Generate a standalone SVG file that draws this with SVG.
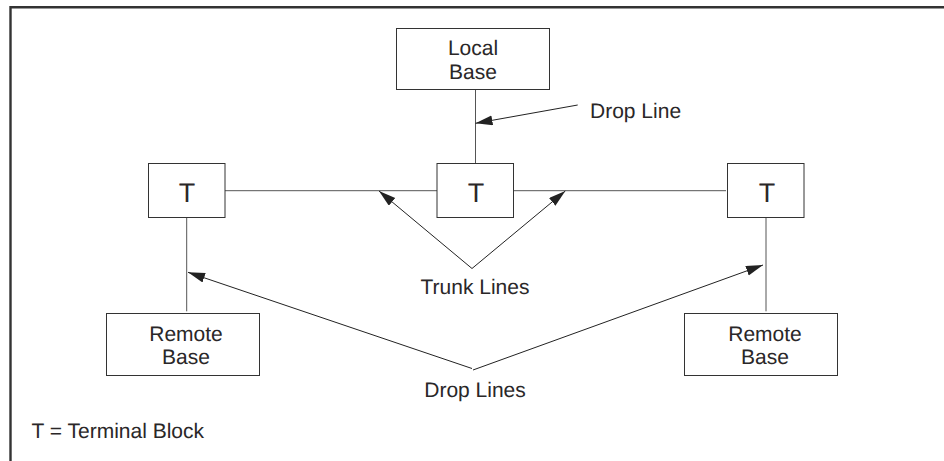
<svg xmlns="http://www.w3.org/2000/svg" width="944" height="461" viewBox="0 0 944 461">
<style>
text{font-family:"Liberation Sans",Arial,sans-serif;font-size:21px;fill:#2a2728;text-anchor:middle;text-rendering:geometricPrecision}
.t{font-size:27px}
.s{text-anchor:start}
rect{fill:#fff;stroke:#333;stroke-width:1}
.c{stroke:#555;stroke-width:1;fill:none}
.a{stroke:#222;stroke-width:1;fill:none;marker-end:url(#h)}
.f{stroke:#333;stroke-width:2.4;fill:none}
</style>
<defs><marker id="h" markerUnits="userSpaceOnUse" markerWidth="18" markerHeight="12" refX="17" refY="5" orient="auto"><path d="M0 0L17 5L0 10Z" fill="#222"/></marker></defs>
<rect width="944" height="461" style="fill:#fff;stroke:none"/>
<path class="f" d="M944 7.3H10.5V461"/>
<g id="connectors">
<path class="c" d="M475.5 89.7V163.7M225 190.7H437M513.7 190.7H726M186.7 217.7V311.3M766 217.7V311.3"/>
<path class="a" d="M577.7 105L475.5 123.3"/>
<path class="a" d="M472 268.5L379 191"/>
<path class="a" d="M472 268.5L565.3 191"/>
<path class="a" d="M472 368.5L188 272.3"/>
<path class="a" d="M473 370L763 265"/>
</g>
<g id="local-base"><rect x="396.5" y="28.5" width="153" height="61"/><text x="473" y="55">Local</text><text x="473" y="78.7">Base</text></g>
<g id="terminal-left"><rect x="148.5" y="163.5" width="76.5" height="54"/><text class="t" x="187" y="202">T</text></g>
<g id="terminal-center"><rect x="437" y="163.5" width="76.5" height="54"/><text class="t" x="476" y="202">T</text></g>
<g id="terminal-right"><rect x="727.5" y="163.5" width="76.5" height="54"/><text class="t" x="767" y="202">T</text></g>
<g id="remote-left"><rect x="106.5" y="313.5" width="153" height="62"/><text x="186" y="341">Remote</text><text x="186" y="363.7">Base</text></g>
<g id="remote-right"><rect x="684.5" y="313.5" width="153" height="62"/><text x="765" y="341">Remote</text><text x="765" y="363.7">Base</text></g>
<g id="labels">
<text class="s" x="590" y="118">Drop Line</text>
<text x="475" y="294">Trunk Lines</text>
<text x="475" y="397.3">Drop Lines</text>
<text class="s" x="31.5" y="438">T = Terminal Block</text>
</g>
</svg>
